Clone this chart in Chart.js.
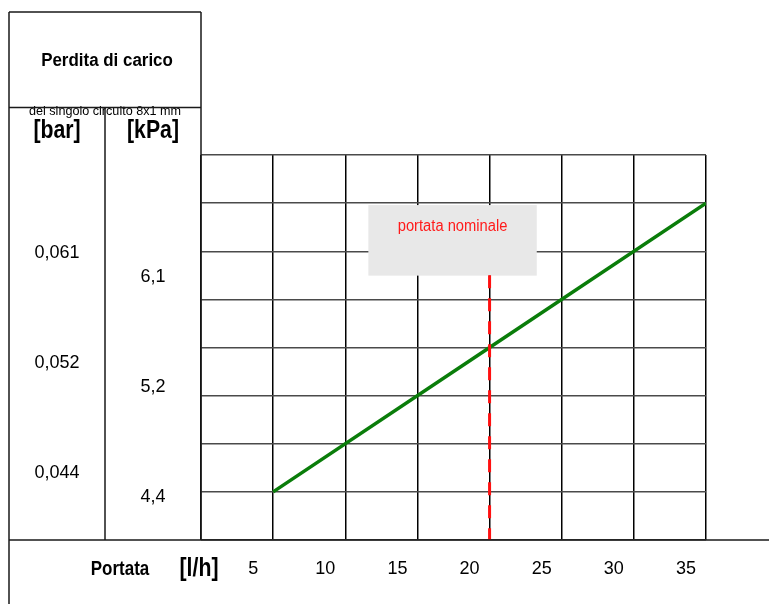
<!DOCTYPE html>
<html><head><meta charset="utf-8">
<script src="https://cdn.jsdelivr.net/npm/chart.js@4/dist/chart.umd.min.js"></script>
<style>html,body{margin:0;padding:0;background:#fff;} #wrap{width:769px;height:604px;position:relative;}</style>
</head><body><div id="wrap"><canvas id="c" width="769" height="604"></canvas></div>
<script>
// ---- data ----
const flowValues = [5, 20, 35];            // Portata [l/h]
const pressureKpa = [4.3, 5.2, 6.1];       // Perdita di carico [kPa]
const nominalFlow = 20;                    // portata nominale [l/h]
const nominalKpaRange = [5.65, 4.0];
const xTickValues = [0, 5, 10, 15, 20, 25, 30, 35];
const gridKpa = [4.0, 4.3, 4.6, 4.9, 5.2, 5.5, 5.8, 6.1, 6.4];
const barLabels = ['0,044', '0,052', '0,061'];
const kpaLabels = ['4,4', '5,2', '6,1'];
const texts = {
  title: 'Perdita di carico',
  subtitle: 'del singolo circuito 8x1 mm',
  bar: '[bar]', kpa: '[kPa]',
  xName: 'Portata', xUnit: '[l/h]',
  nominal: 'portata nominale'
};

const FAM = "'Liberation Sans',Arial,sans-serif";

function narrowText(ctx, txt, cx, cy, squeeze) {
  ctx.save();
  ctx.translate(cx, cy);
  ctx.scale(squeeze, 1);
  ctx.fillText(txt, 0, 0);
  ctx.restore();
}

const framePlugin = {
  id: 'frame',
  beforeDatasetsDraw(chart) {
    const {ctx, scales: {x, y}} = chart;
    const bx0 = x.getPixelForValue(11.6), bx1 = x.getPixelForValue(23.27);
    const by0 = y.getPixelForValue(6.088), by1 = y.getPixelForValue(5.648);
    ctx.save();
    ctx.fillStyle = '#e8e8e8';
    ctx.fillRect(bx0, by0, bx1 - bx0, by1 - by0);
    ctx.fillStyle = '#ff1a1a';
    ctx.font = '16px ' + FAM;
    ctx.textAlign = 'center';
    ctx.textBaseline = 'middle';
    narrowText(ctx, texts.nominal, (bx0 + bx1) / 2, by0 + 21.5, 0.92);
    ctx.restore();
  },
  afterDraw(chart) {
    const {ctx, chartArea, scales} = chart;
    const L = scales.yBar.left, M = scales.yBar.right, R = scales.yKpa.right;
    const B = chartArea.bottom;
    ctx.save();
    ctx.fillStyle = '#000';
    ctx.textAlign = 'center';
    ctx.textBaseline = 'alphabetic';
    ctx.font = 'bold 18px ' + FAM;
    narrowText(ctx, texts.title, (L + R) / 2 + 2, 66, 0.94);
    ctx.font = '13px ' + FAM;
    narrowText(ctx, texts.subtitle, (L + R) / 2, 115, 0.97);
    ctx.textBaseline = 'middle';
    ctx.font = 'bold 25px ' + FAM;
    narrowText(ctx, texts.bar, (L + M) / 2, 131, 0.85);
    narrowText(ctx, texts.kpa, (M + R) / 2, 131, 0.85);
    ctx.font = 'bold 20px ' + FAM;
    narrowText(ctx, texts.xName, 120, 569, 0.85);
    ctx.font = 'bold 25px ' + FAM;
    narrowText(ctx, texts.xUnit, 199, 569, 0.85);

    ctx.strokeStyle = '#1a1a1a';
    ctx.lineWidth = 1.5;
    ctx.beginPath();
    ctx.moveTo(L, 12); ctx.lineTo(R, 12);
    ctx.moveTo(L, 107.5); ctx.lineTo(R, 107.5);
    ctx.moveTo(L, 12); ctx.lineTo(L, 604);
    ctx.moveTo(M, 107.5); ctx.lineTo(M, B);
    ctx.moveTo(R, 12); ctx.lineTo(R, B);
    ctx.moveTo(L, B); ctx.lineTo(769, B);
    ctx.stroke();
    ctx.restore();
  }
};

new Chart(document.getElementById('c'), {
  type: 'line',
  data: {
    datasets: [
      {
        data: nominalKpaRange.map(v => ({x: nominalFlow, y: v})),
        borderColor: '#ff1010', borderWidth: 3, borderDash: [13, 10],
        pointRadius: 0, fill: false
      },
      {
        data: flowValues.map((f, i) => ({x: f, y: pressureKpa[i]})),
        borderColor: '#0a7d0a', borderWidth: 3.5,
        pointRadius: 0, fill: false, tension: 0
      }
    ]
  },
  options: {
    responsive: false, animation: false,
    layout: {padding: {top: 155, left: 9, right: 63, bottom: 0}},
    plugins: {legend: {display: false}, tooltip: {enabled: false}},
    scales: {
      x: {
        type: 'linear', min: 0, max: 35,
        afterBuildTicks: s => { s.ticks = xTickValues.map(v => ({value: v})); },
        afterFit: s => { s.height = 64; },
        grid: {color: '#000', lineWidth: 1.5, drawTicks: false},
        border: {display: false},
        ticks: {
          callback: v => v === 0 ? '' : String(v),
          labelOffset: -20, padding: 18, color: '#000',
          font: {family: FAM, size: 18}, maxRotation: 0, autoSkip: false
        }
      },
      y: {
        type: 'linear', min: 4.0, max: 6.4, weight: 0,
        afterBuildTicks: s => { s.ticks = gridKpa.map(v => ({value: v})); },
        afterFit: s => { s.width = 0; },
        grid: {color: '#4a4a4a', lineWidth: 1.5, drawTicks: false},
        border: {display: false},
        ticks: {display: false}
      },
      yKpa: {
        type: 'linear', position: 'left', min: -0.385, max: 3.105, weight: 1,
        afterBuildTicks: s => { s.ticks = kpaLabels.map((_, i) => ({value: i})); },
        afterFit: s => { s.width = 96; },
        grid: {display: false, drawTicks: false},
        border: {display: false},
        ticks: {
          callback: v => kpaLabels[v], crossAlign: 'center', padding: 35.5,
          color: '#000', font: {family: FAM, size: 18}
        }
      },
      yBar: {
        type: 'linear', position: 'left', min: -0.605, max: 2.895, weight: 2,
        afterBuildTicks: s => { s.ticks = barLabels.map((_, i) => ({value: i})); },
        afterFit: s => { s.width = 96; },
        grid: {display: false, drawTicks: false},
        border: {display: false},
        ticks: {
          callback: v => barLabels[v], crossAlign: 'center', padding: 25.5,
          color: '#000', font: {family: FAM, size: 18}
        }
      }
    }
  },
  plugins: [framePlugin]
});
</script>
</body></html>
